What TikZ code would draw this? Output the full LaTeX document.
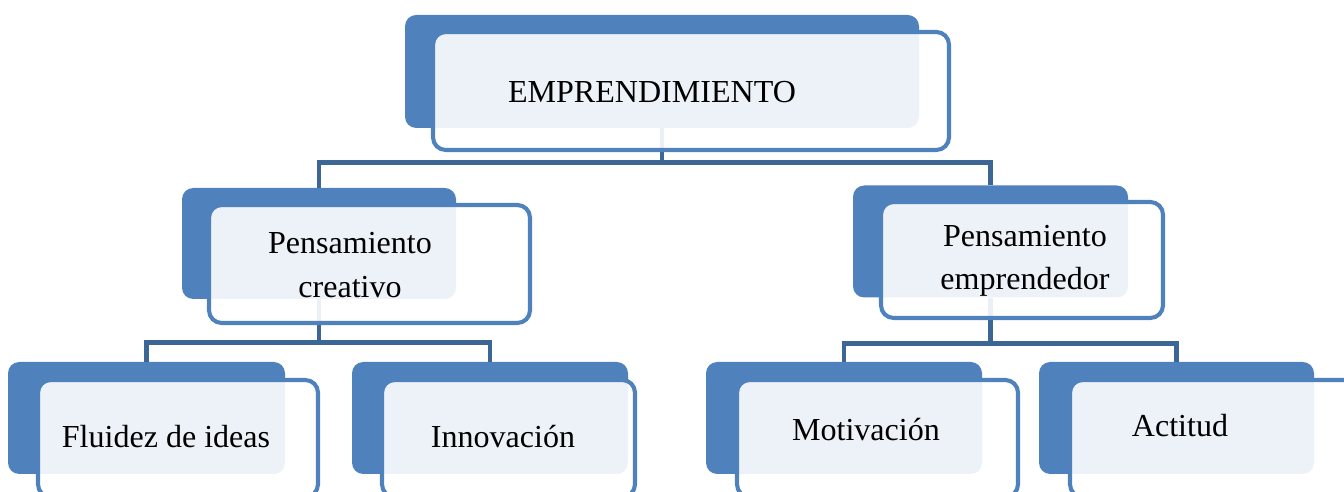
\documentclass[tikz,border=0pt]{standalone}
\usepackage{fontspec}
\setmainfont{Liberation Serif}
\definecolor{orgBlue}{HTML}{4F81BD}
\definecolor{orgLink}{HTML}{3C6696}
\usetikzlibrary{calc,positioning}
\tikzset{
  backbox/.style={fill=orgBlue, rounded corners=8pt, inner sep=0pt},
  frontbox/.style={draw=orgBlue, line width=2.9pt, fill=white, fill opacity=0.9, rounded corners=9pt, inner sep=0pt},
  link/.style={draw=orgLink, line width=3.3pt},
  lbl/.style={font=\fontsize{22.8}{31}\selectfont, align=center, inner sep=0pt},
}

\begin{document}
\begin{tikzpicture}
  \clip (0,0) rectangle (33.6,12.3);
  % Back panels
  \node[backbox, minimum width=12.85cm, minimum height=2.825cm] (emp) at (16.55,10.5125) {};
  \node[backbox, minimum width=6.85cm, minimum height=2.775cm] (pcre) at (7.975,6.2125) {};
  \node[backbox, minimum width=6.875cm, minimum height=2.8cm] (pemp) at (24.7625,6.2625) {};
  \node[backbox, minimum width=6.925cm, minimum height=2.8cm] (flu) at (3.6625,1.85) {};
  \node[backbox, minimum width=6.9cm, minimum height=2.8cm] (inn) at (12.25,1.85) {};
  \node[backbox, minimum width=6.9cm, minimum height=2.8cm] (mot) at (21.1,1.85) {};
  \node[backbox, minimum width=6.875cm, minimum height=2.8cm] (act) at (29.4125,1.85) {};
  % Connectors
  \draw[link] (emp.south) -- ++(0,-0.85) -| (pcre.north);
  \draw[link] (emp.south) -- ++(0,-0.85) -| (pemp.north);
  \draw[link] (pcre.south) -- ++(0,-1.075) -| (flu.north);
  \draw[link] (pcre.south) -- ++(0,-1.075) -| (inn.north);
  \draw[link] (pemp.south) -- ++(0,-1.15) -| (mot.north);
  \draw[link] (pemp.south) -- ++(0,-1.15) -| (act.north);
  % Front frames
  \node[frontbox, minimum width=12.9cm, minimum height=2.95cm] (empF) at (17.275,10.025) {};
  \node[frontbox, minimum width=8.025cm, minimum height=2.95cm] (pcreF) at (9.2375,5.7) {};
  \node[frontbox, minimum width=7.05cm, minimum height=2.9cm] (pempF) at (25.55,5.8) {};
  \node[frontbox, minimum width=7.0cm, minimum height=2.925cm] (fluF) at (4.45,1.3375) {};
  \node[frontbox, minimum width=6.325cm, minimum height=2.925cm] (innF) at (12.7125,1.3375) {};
  \node[frontbox, minimum width=7.025cm, minimum height=2.925cm] (motF) at (21.9375,1.3375) {};
  \node[frontbox, minimum width=7.2cm, minimum height=2.925cm] (actF) at (30.35,1.3375) {};
  % Labels
  \node[lbl, anchor=base] (empT) at (16.3,9.725) {EMPRENDIMIENTO};
  \node[lbl] (pcreT) at (8.75,5.675) {Pensamiento\\creativo};
  \node[lbl] (pempT) at (25.625,5.775) {Pensamiento\\emprendedor};
  \node[lbl, anchor=base] (fluT) at (4.15,1.1) {Fluidez de ideas};
  \node[lbl, anchor=base] (innT) at (12.575,1.1) {Innovación};
  \node[lbl, anchor=base] (motT) at (21.65,1.275) {Motivación};
  \node[lbl, anchor=base] (actT) at (29.5,1.375) {Actitud};
\end{tikzpicture}
\end{document}
